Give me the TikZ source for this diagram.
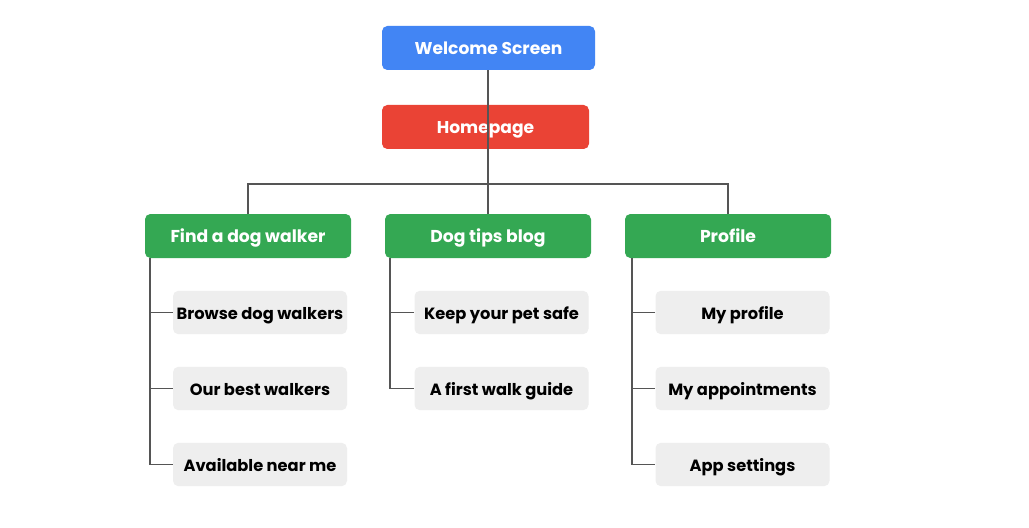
\documentclass[tikz,border=0pt]{standalone}
\usepackage{fontspec}
\setmainfont{Poppins}
\begin{document}
\begin{tikzpicture}[x=0.75pt,y=-0.75pt,
  box/.style={rounded corners=4pt,inner sep=0pt,text height=11pt,text depth=1pt,font=\fontsize{12.2}{14}\selectfont\bfseries},
  topbox/.style={box,fill=#1,text=white,minimum height=33pt,font=\fontsize{12.8}{14}\selectfont\bfseries},
  cat/.style={box,fill=gcat,text=white,minimum width=154.5pt,minimum height=33pt,font=\fontsize{12.9}{14}\selectfont\bfseries},
  leaf/.style={box,fill=gleaf,text=black,minimum width=130.5pt,minimum height=32.5pt},
  conn/.style={draw=lnc,line width=0.8pt}]
\definecolor{gblue}{HTML}{4285F4}
\definecolor{gred}{HTML}{EA4335}
\definecolor{gcat}{HTML}{34A853}
\definecolor{gleaf}{HTML}{EEEEEE}
\definecolor{lnc}{HTML}{555555}
\useasboundingbox[fill=white] (0,0) rectangle (1029,528);
\node[topbox=gblue,minimum width=159.75pt] (welcome) at (488.5,48) {Welcome Screen};
\node[topbox=gred,minimum width=155.25pt] (home) at (485.5,127) {Homepage};
\node[cat] (find) at (248,236) {Find a dog walker};
\node[cat] (tips) at (488,236) {Dog tips blog};
\node[cat] (prof) at (728,236) {Profile};
\node[leaf] (f1) at (260,312.5) {Browse dog walkers};
\node[leaf] (f2) at (260,388.5) {Our best walkers};
\node[leaf] (f3) at (260,464.5) {Available near me};
\node[leaf] (t1) at (501.5,312.5) {Keep your pet safe};
\node[leaf] (t2) at (501.5,388.5) {A first walk guide};
\node[leaf] (p1) at (742.5,312.5) {My profile};
\node[leaf] (p2) at (742.5,388.5) {My appointments};
\node[leaf] (p3) at (742.5,464.5) {App settings};
\coordinate (hub) at (488,184);
\coordinate (fs) at (150,258);
\coordinate (ts) at (390,258);
\coordinate (ps) at (632,258);
\draw[conn] (welcome.south -| hub) -- (home.south -| hub);
\draw[conn] (home.south -| hub) -- (hub);
\draw[conn] (hub) -| (find.north);
\draw[conn] (hub) -| (prof.north);
\draw[conn] (hub) -- (tips.north);
\draw[conn] (fs) |- (f3.west);
\draw[conn] (f1.west) -- (f1.west -| fs);
\draw[conn] (f2.west) -- (f2.west -| fs);
\draw[conn] (ts) |- (t2.west);
\draw[conn] (t1.west) -- (t1.west -| ts);
\draw[conn] (ps) |- (p3.west);
\draw[conn] (p1.west) -- (p1.west -| ps);
\draw[conn] (p2.west) -- (p2.west -| ps);
\end{tikzpicture}
\end{document}
